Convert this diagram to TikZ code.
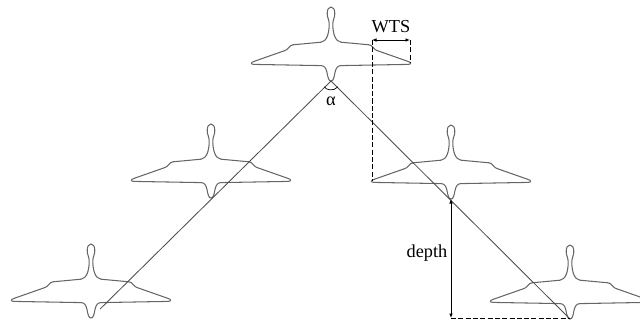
\documentclass[tikz,border=0pt]{standalone}
\usepackage{fontspec}
\setmainfont{Liberation Serif}
\usetikzlibrary{arrows.meta}

\tikzset{
  birdline/.style={line width=0.75pt, color=black!60, line join=round},
  legline/.style={line width=0.6pt, color=black!70},
  dimline/.style={line width=0.6pt, dash pattern=on 3.6pt off 1.6pt},
  arrowline/.style={line width=0.6pt, {Latex[length=3.2pt,width=2.6pt]}-{Latex[length=3.2pt,width=2.6pt]}},
  label/.style={inner sep=0pt, font=\fontsize{13}{15}\selectfont},
  % one bird seen from above, origin at the tip of its tail
  bird/.pic={
    \foreach \s in {1,-1}
      \draw[birdline, xscale=\s] (0,-74)
        .. controls (2.4,-74) and (3.8,-71.5) .. (3.8,-67.5)
        .. controls (3.8,-63) and (1.8,-61.5) .. (1.8,-57)
        .. controls (1.8,-47) and (4.5,-39.5) .. (10,-38.8)
        -- (38,-36.2)
        .. controls (42,-35.8) and (42.5,-31) .. (46.5,-30.3)
        -- (77,-19.6)
        .. controls (80.5,-18.6) and (80.5,-16.6) .. (77,-16.6)
        -- (10,-15.4)
        .. controls (6.5,-15.3) and (5,-13) .. (4,-8.5)
        .. controls (3,-3) and (2.2,0) .. (0,0);
  }
}

\begin{document}
\begin{tikzpicture}[x=0.025cm, y=-0.025cm]
    \useasboundingbox (0,0) rectangle (640,323);
    \clip (0,0) rectangle (640,323);

    % tail points of the birds
    \coordinate (lead) at (331,81);
    \coordinate (left1) at (211,198);
    \coordinate (right1) at (451,199);
    \coordinate (left2) at (91,318);
    \coordinate (right2) at (570,319);

    \foreach \b in {lead,left1,right1,left2,right2}
        \pic at (\b) {bird};

    % the two legs of the V
    \draw[legline, shorten >=9pt] (lead) -- (left2);
    \draw[legline] (lead) -- (right2);

    % opening angle
    \draw[line width=0.5pt] (lead) ++(40:9) arc[start angle=40, end angle=140, radius=9];
    \node[label] (alpha) at (331,101) {α};

    % wing tip spacing
    \coordinate (wtsL) at (372,40);
    \coordinate (wtsR) at (410,40);
    \coordinate (tipR) at (410,62);
    \coordinate (tipL) at (372,181);
    \draw[dimline] (wtsL) -- (tipL);
    \draw[dimline] (wtsR) -- (tipR);
    \draw[arrowline] (wtsL) -- (wtsR);
    \node[label] (wts) at (391,27) {WTS};

    % depth between neighbours
    \coordinate (depthEnd) at (451,318);
    \draw[arrowline] (right1) -- (depthEnd);
    \draw[dimline] (depthEnd) -- (depthEnd -| right2);
    \node[label] (depth) at (427,253) {depth};
\end{tikzpicture}
\end{document}
